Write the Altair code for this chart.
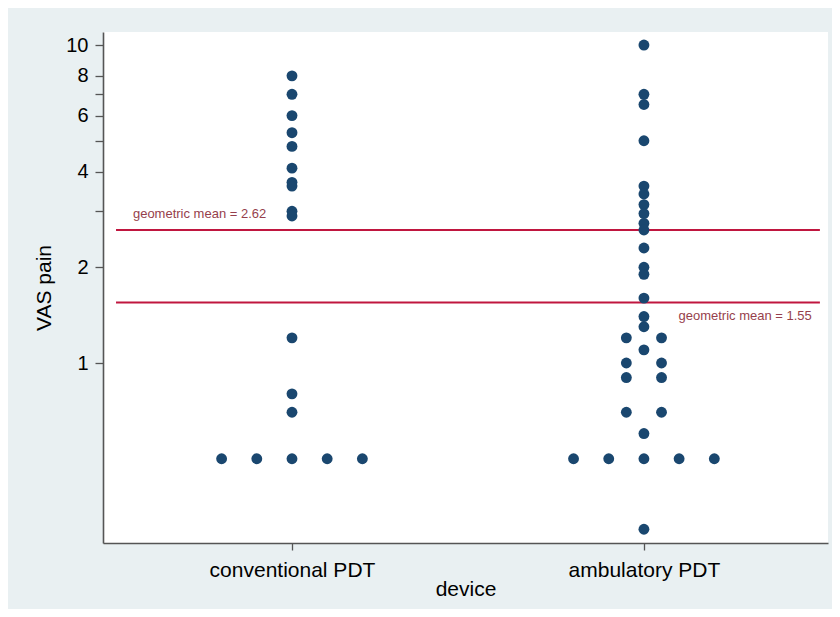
import altair as alt
import pandas as pd

# ---- data ----
groups = ["conventional PDT", "ambulatory PDT"]
conventional = [8, 7, 6, 5.3, 4.8, 4.1, 3.7, 3.6, 3.0, 2.9, 1.2, 0.8, 0.7,
                0.5, 0.5, 0.5, 0.5, 0.5]
ambulatory = [10, 7, 6.5, 5, 3.6, 3.4, 3.15, 2.95, 2.75, 2.62, 2.3, 2.0, 1.9,
              1.6, 1.4, 1.3, 1.2, 1.2, 1.1, 1.0, 1.0, 0.9, 0.9, 0.7, 0.7, 0.6,
              0.5, 0.5, 0.5, 0.5, 0.5, 0.3]
geo_means = [2.62, 1.55]
y_ticks = [1, 2, 3, 4, 5, 6, 7, 8, 10]
y_minor = [3, 5, 7]

# dot-plot layout: identical values are spread side by side around the group
rows = []
for gi, vals in enumerate([conventional, ambulatory], start=1):
    counts = {}
    for v in vals:
        counts[v] = counts.get(v, 0) + 1
    seen = {}
    for v in vals:
        n = counts[v]
        k = seen.get(v, 0)
        seen[v] = k + 1
        off = (k - (n - 1) / 2) * 0.1
        rows.append({"device": groups[gi - 1], "pos": gi + off, "vas": v})
df = pd.DataFrame(rows)

means_df = pd.DataFrame({
    "mean": geo_means,
    "label": [f"geometric mean = {m:.2f}" for m in geo_means],
})

FONT = "Liberation Sans"
xscale = alt.Scale(domain=[0.463, 2.523], nice=False, zero=False)
yscale = alt.Scale(type="log", domain=[0.2716, 10.99], nice=False)

label_expr = " || ".join(f"datum.value == {m}" for m in y_minor)

dots = alt.Chart(df).mark_circle(size=118, color="#1a476f", opacity=1).encode(
    x=alt.X("pos:Q", scale=xscale,
            axis=alt.Axis(title="device", values=[1, 2],
                          labelExpr="datum.value == 1 ? 'conventional PDT' : 'ambulatory PDT'",
                          grid=False, tickSize=7, labelPadding=9,
                          titlePadding=-2)),
    y=alt.Y("vas:Q", scale=yscale,
            axis=alt.Axis(title="VAS pain", values=y_ticks,
                          labelExpr=f"({label_expr}) ? '' : format(datum.value, 'd')",
                          grid=False, tickSize=8, labelPadding=7,
                          titlePadding=11, labelFontSize=20)),
)

rules = alt.Chart(means_df).mark_rule(color="#c0163f", strokeWidth=2).encode(
    y=alt.Y("mean:Q", scale=yscale),
    x=alt.datum(0.5),
    x2=alt.datum(2.5),
)

text_left = alt.Chart(means_df.iloc[[0]]).mark_text(
    align="left", baseline="middle", dy=-16, fontSize=13, font=FONT,
    color="#963f4c").encode(
    x=alt.datum(0.548), y=alt.Y("mean:Q", scale=yscale), text="label:N")

text_right = alt.Chart(means_df.iloc[[1]]).mark_text(
    align="right", baseline="middle", dy=14, fontSize=13, font=FONT,
    color="#963f4c").encode(
    x=alt.datum(2.477), y=alt.Y("mean:Q", scale=yscale), text="label:N")

chart = alt.layer(rules, dots, text_left, text_right).properties(
    width=725, height=511,
    padding={"left": 95, "top": 24, "right": 4, "bottom": 66},
    autosize=alt.AutoSizeParams(type="none"),
    background="#e9f0f2",
).configure_view(
    fill="white", strokeWidth=0,
).configure_axis(
    labelFont=FONT, titleFont=FONT, labelFontSize=21, titleFontSize=21,
    labelColor="#000000", titleColor="#000000", titleFontWeight="normal",
    domainColor="#555555", domainWidth=1.6, tickColor="#555555", tickWidth=1.3,
)

chart.save("out.html", embed_options={"renderer": "svg", "actions": False})
